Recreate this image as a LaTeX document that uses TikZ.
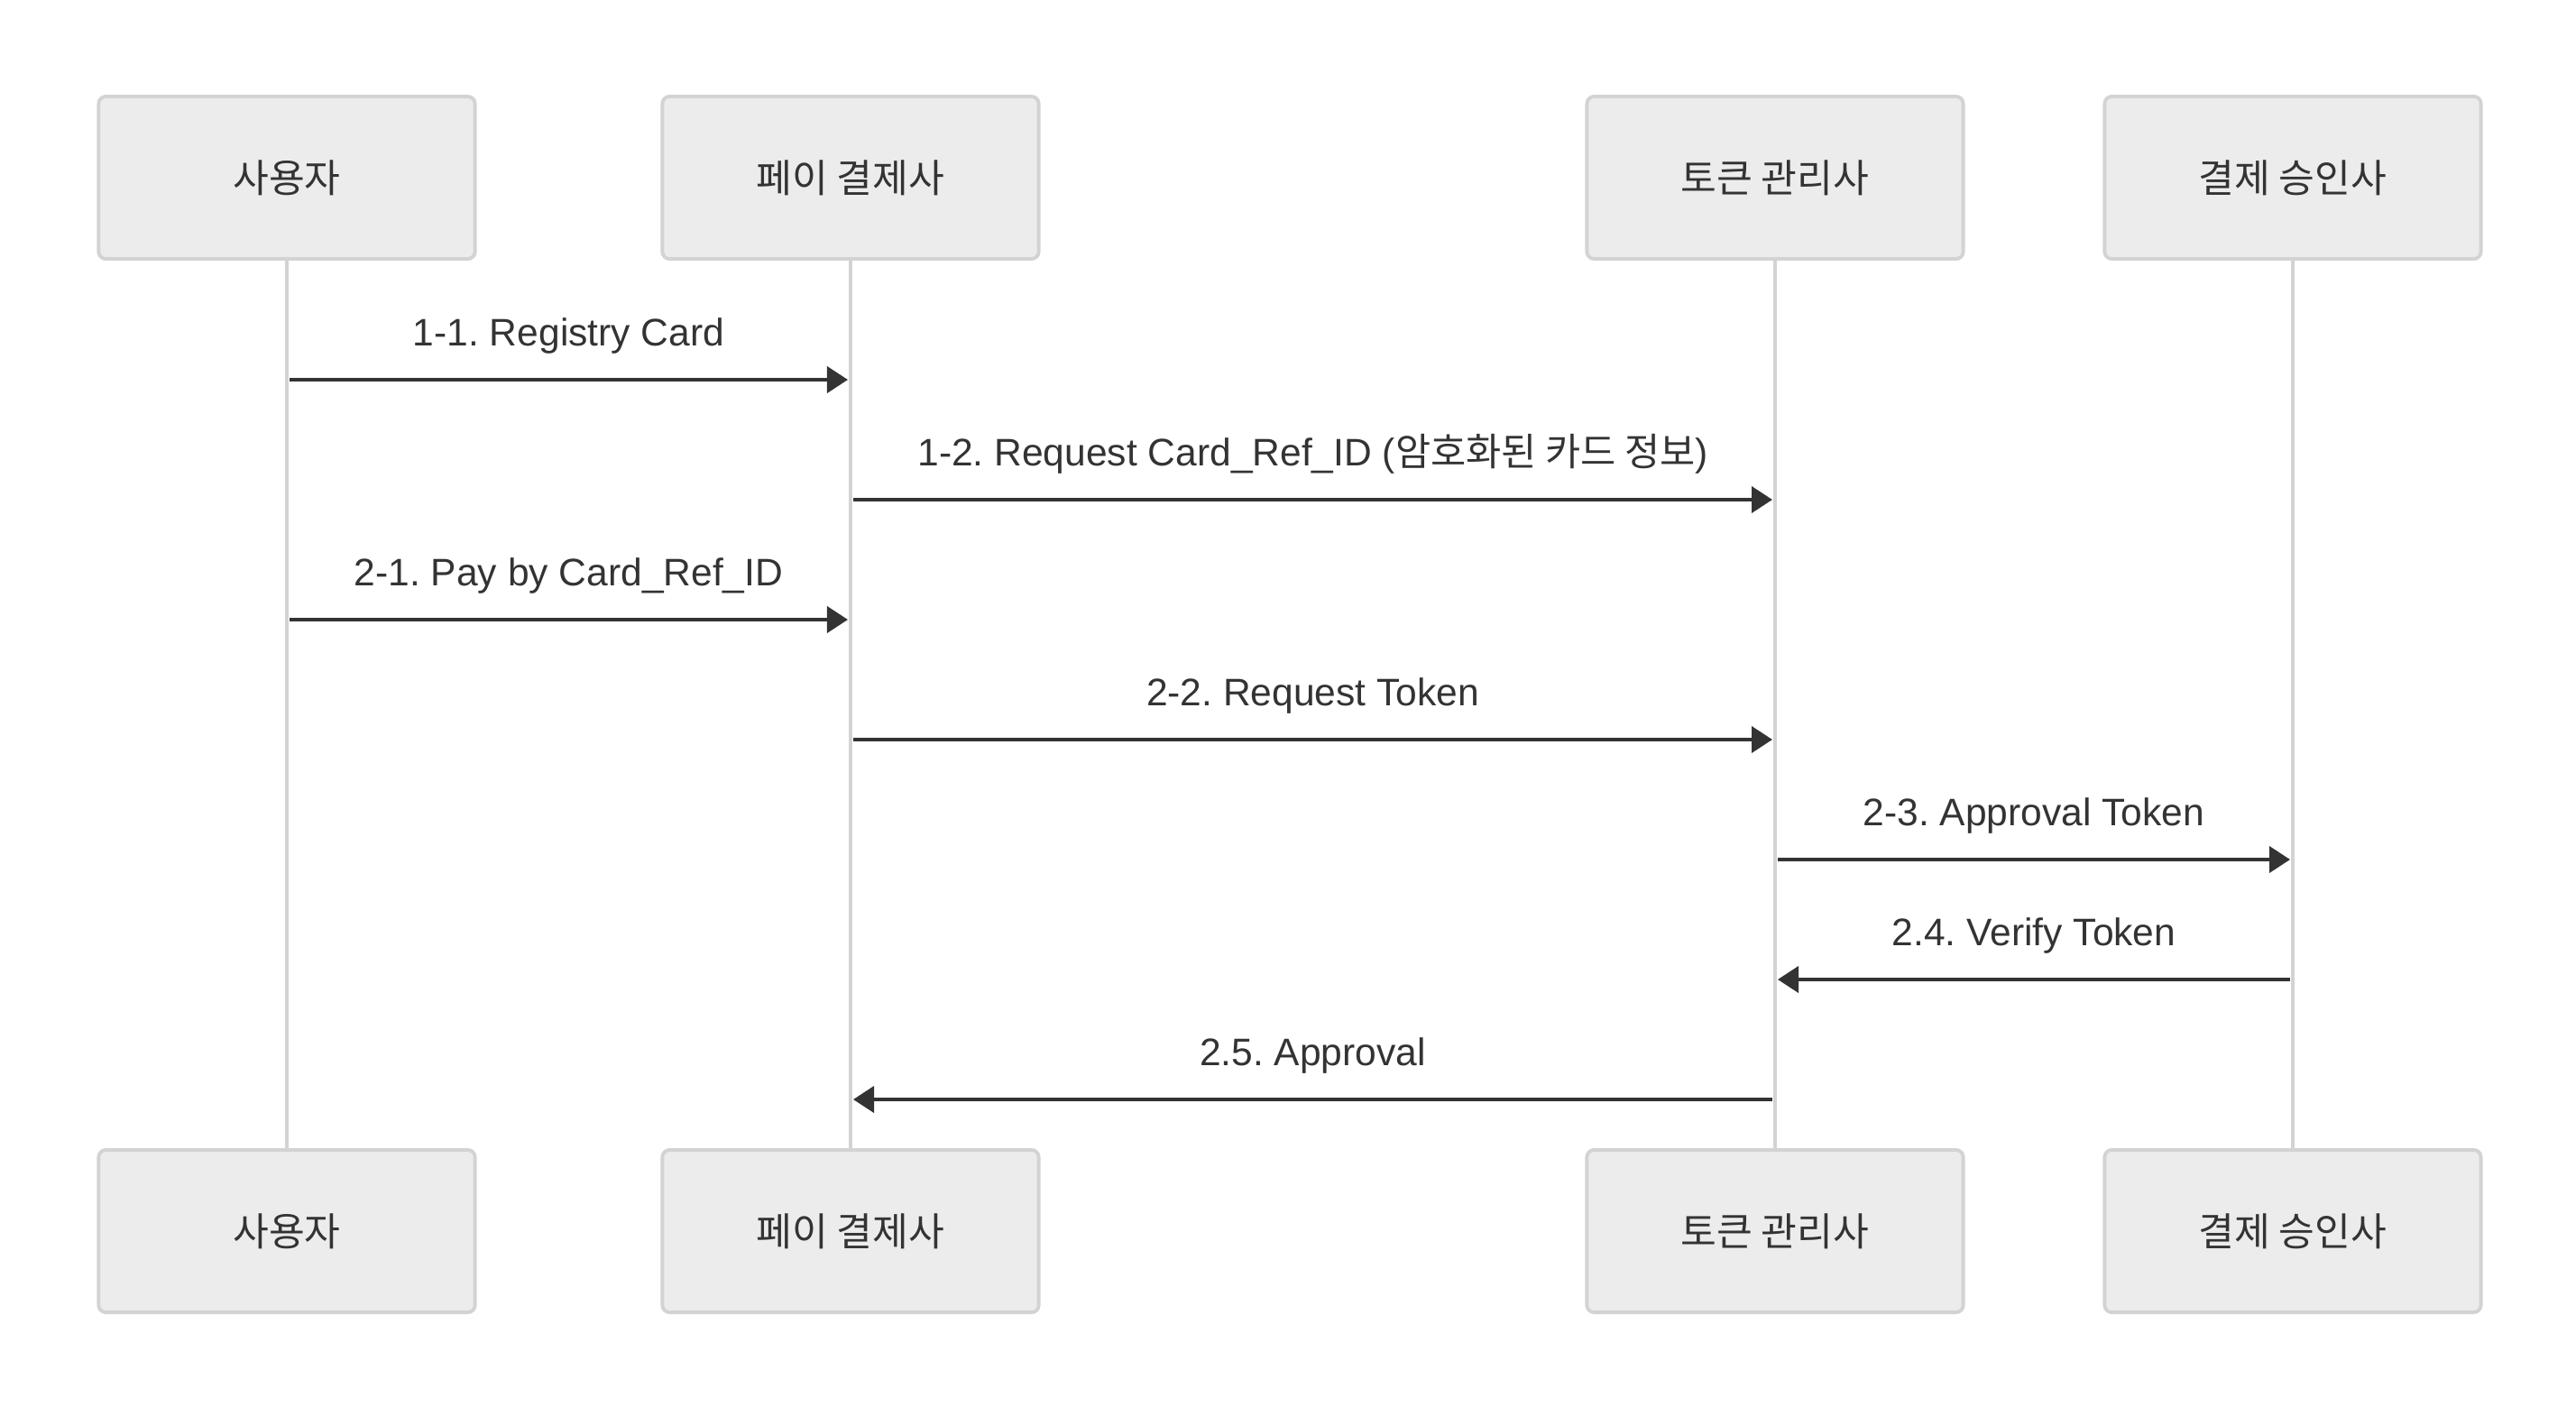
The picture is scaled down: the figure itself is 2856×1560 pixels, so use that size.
\documentclass[tikz,border=0pt]{standalone}
\usepackage{fontspec}
\setmainfont{Liberation Sans}
\newfontfamily\kr{Noto Sans CJK KR}
\usetikzlibrary{arrows.meta,positioning}

\definecolor{boxfill}{HTML}{ECECEC}
\definecolor{boxline}{HTML}{D3D3D3}
\definecolor{ink}{HTML}{333333}

\frenchspacing

\begin{document}
\begin{tikzpicture}[x=0.01cm,y=-0.01cm,
  actor/.style={draw=boxline,fill=boxfill,line width=1.1pt,rounded corners=0.08cm,
    minimum width=4.17cm,minimum height=1.8cm,text=ink,font=\kr\fontsize{12.3}{15}\selectfont},
  life/.style={draw=boxline,line width=1.3pt},
  msg/.style={draw=ink,line width=1.1pt,shorten >=0.03cm,shorten <=0.03cm,
    -{Triangle[length=0.23cm,width=0.29cm]}},
  lbl/.style={text=ink,anchor=base,yshift=0.37cm,font=\fontsize{12.1}{15}\selectfont}]

\useasboundingbox (0,0) rectangle (2856,1560);

% Participants at the top
\node[actor] (uTop) at (318,197) {사용자};
\node[actor] (pTop) at (943,197) {페이 결제사};
\node[actor] (tTop) at (1968,197) {토큰 관리사};
\node[actor] (aTop) at (2542,197) {결제 승인사};

% Participants repeated at the bottom
\node[actor] (uBot) at (318,1365) {사용자};
\node[actor] (pBot) at (943,1365) {페이 결제사};
\node[actor] (tBot) at (1968,1365) {토큰 관리사};
\node[actor] (aBot) at (2542,1365) {결제 승인사};

% Lifelines
\foreach \p in {u,p,t,a}
  \draw[life] (\p Top.south) -- (\p Bot.north);

% Messages
\foreach \src/\dst/\y/\txt in {
    u/p/421/{1-1. Registry Card},
    p/t/554/{1-2. Request Card\_Ref\_ID ({\kr 암호화된 카드 정보})},
    u/p/687/{2-1. Pay by Card\_Ref\_ID},
    p/t/820/{2-2. Request Token},
    t/a/953/{2-3. Approval Token},
    a/t/1086/{2.4. Verify Token},
    t/p/1219/{2.5. Approval}}
  \draw[msg] (\src Top.south |- 0,\y) -- (\dst Top.south |- 0,\y)
    node[lbl,midway] {\txt};

\end{tikzpicture}
\end{document}
